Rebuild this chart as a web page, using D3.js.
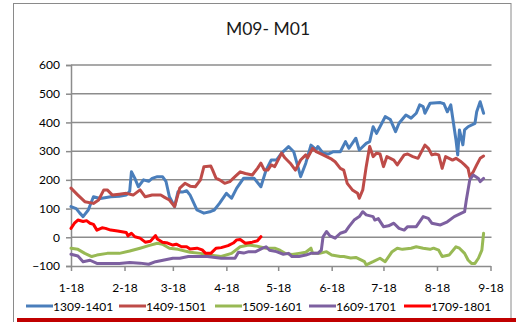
<!DOCTYPE html>
<html><head><meta charset="utf-8">
<script src="https://cdn.jsdelivr.net/npm/d3@7"></script>
<style>
html,body{margin:0;padding:0;background:#fff;}
svg{display:block;font-family:Lato,"Open Sans",sans-serif;}
</style></head>
<body>
<svg id="c" width="516" height="322"></svg>
<script>
// ---- data (day offset from 18 Jan, value) ----
const title = "M09- M01";
const seriesNames = ["1309-1401","1409-1501","1509-1601","1609-1701","1709-1801"];
const seriesColors = ["#4a7ebb","#be4b48","#98b954","#7d60a0","#ff0000"];
const tickLabels = ["1-18","2-18","3-18","4-18","5-18","6-18","7-18","8-18","9-18"];
const yTicks = [-100,0,100,200,300,400,500,600];

const s1309 = [[0,107],[3,100],[5,85],[7,72],[10,95],[13,141],[17,135],[23,141],[28,143],[32,147],[34,160],[35,228],[37,205],[39,176],[42,200],[45,195],[47,205],[50,211],[53,211],[55,195],[57,141],[60,107],[62,159],[65,158],[67,162],[69,147],[73,95],[77,84],[81,90],[83,95],[86,118],[90,153],[93,136],[96,171],[100,206],[106,206],[110,176],[113,234],[116,269],[119,269],[122,293],[126,316],[129,298],[132,234],[133,211],[136,258],[139,321],[142,305],[143,316],[146,293],[149,290],[152,298],[156,298],[159,333],[161,310],[165,345],[167,304],[171,327],[173,333],[175,385],[177,362],[182,420],[185,410],[188,368],[190,397],[194,426],[197,415],[200,432],[202,461],[204,455],[205,432],[208,467],[214,469],[216,465],[218,437],[220,461],[223,339],[224,287],[225,374],[227,322],[228,374],[230,385],[234,397],[235,437],[237,472],[239,432]];
const s1409 = [[0,171],[4,147],[8,124],[13,118],[16,130],[19,165],[21,165],[24,147],[28,150],[32,153],[36,147],[40,165],[43,141],[47,147],[52,147],[54,140],[57,130],[60,107],[63,171],[66,188],[69,178],[72,176],[75,200],[77,246],[81,248],[82,235],[84,206],[86,200],[89,188],[92,194],[95,211],[98,228],[101,222],[105,217],[108,240],[110,258],[112,234],[114,234],[116,252],[118,246],[122,293],[124,276],[127,258],[130,234],[133,269],[136,287],[137,276],[140,310],[142,298],[146,287],[151,272],[153,263],[156,240],[158,234],[160,188],[163,165],[166,153],[167,136],[169,165],[171,246],[173,316],[175,281],[177,293],[179,290],[181,246],[183,281],[187,269],[189,252],[193,287],[195,290],[198,281],[201,275],[205,321],[207,310],[209,287],[211,290],[213,287],[215,240],[217,281],[221,269],[223,275],[226,263],[228,252],[230,240],[231,211],[233,228],[235,252],[237,275],[239,283]];
const s1509 = [[0,-38],[4,-42],[8,-56],[12,-67],[15,-62],[21,-56],[28,-56],[34,-48],[40,-38],[45,-29],[50,-21],[53,-24],[57,-38],[62,-42],[69,-52],[75,-56],[80,-62],[87,-67],[93,-56],[98,-33],[103,-27],[107,-30],[113,-38],[118,-38],[121,-45],[124,-56],[128,-60],[132,-56],[136,-52],[139,-38],[140,-56],[144,-56],[148,-50],[151,-62],[156,-67],[158,-67],[162,-72],[165,-70],[170,-85],[171,-96],[175,-85],[179,-73],[182,-85],[186,-50],[189,-38],[192,-42],[197,-38],[200,-33],[204,-38],[208,-42],[210,-38],[213,-45],[215,-67],[219,-62],[223,-33],[225,-38],[228,-56],[230,-79],[232,-91],[234,-91],[236,-73],[238,-45],[239,14]];
const s1609 = [[0,-59],[4,-65],[7,-85],[11,-80],[15,-91],[23,-91],[28,-91],[34,-88],[40,-90],[45,-94],[49,-85],[54,-79],[59,-73],[63,-73],[68,-67],[72,-67],[79,-67],[87,-73],[95,-73],[97,-52],[100,-55],[103,-50],[107,-50],[111,-38],[113,-33],[115,-45],[119,-50],[123,-59],[126,-56],[128,-67],[132,-67],[136,-62],[139,-56],[143,-56],[145,-45],[146,2],[148,20],[150,5],[153,-3],[156,14],[159,20],[161,37],[164,60],[167,72],[169,89],[171,78],[175,72],[176,60],[178,65],[181,37],[184,40],[187,49],[190,31],[193,25],[195,37],[200,37],[204,72],[207,66],[209,49],[214,43],[218,54],[222,72],[228,89],[229,130],[231,200],[233,217],[236,205],[237,194],[239,205]];
const s1709 = [[0,31],[2,49],[4,60],[7,55],[9,58],[11,49],[13,45],[15,25],[18,33],[20,31],[23,25],[27,22],[32,17],[33,5],[35,14],[37,2],[40,-3],[43,-17],[46,-14],[49,6],[50,-6],[53,-17],[56,-20],[59,-27],[61,-24],[64,-33],[67,-33],[69,-41],[73,-38],[76,-44],[78,-56],[81,-56],[84,-38],[87,-36],[91,-29],[94,-20],[96,-9],[98,-8],[101,-21],[105,-17],[108,-12],[110,2]];
const allSeries = [s1309, s1409, s1509, s1609, s1709];

// ---- drawing ----
const svg = d3.select("#c");
const start = new Date(2017, 0, 18);
const end = new Date(2017, 8, 18);
const x = d3.scaleTime().domain([start, end]).range([71, 490.5]);
const y = d3.scaleLinear().domain([-100, 600]).range([266, 65]);
const tickDates = tickLabels.map((t, i) => new Date(2017, i, 18));

// frame
svg.append("rect").attr("x", 13.5).attr("y", 3.5).attr("width", 497.5).attr("height", 330)
  .attr("fill", "none").attr("stroke", "#8a8a8a").attr("stroke-width", 1);
svg.append("rect").attr("x", 17).attr("y", 318).attr("width", 499).attr("height", 4).attr("fill", "#c00000");

// title
svg.append("text").attr("x", 268).attr("y", 35).attr("text-anchor", "middle")
  .attr("font-size", 17.5).attr("fill", "#1a1a1a").text(title);

// gridlines
svg.append("g").selectAll("line").data(yTicks.filter(v => v > -100)).join("line")
  .attr("x1", 71).attr("x2", 491.5).attr("y1", d => y(d)).attr("y2", d => y(d))
  .attr("stroke", "#8c8c8c").attr("stroke-width", 1.5);

// y axis
const ya = svg.append("g").attr("transform", "translate(71,0)")
  .call(d3.axisLeft(y).tickValues(yTicks).tickSize(5).tickPadding(6));
ya.select(".domain").attr("stroke", "#8c8c8c").attr("stroke-width", 1.5);
ya.selectAll(".tick line").attr("stroke", "#8c8c8c").attr("stroke-width", 1.5);
ya.selectAll("text").attr("font-size", 12).attr("fill", "#000").attr("font-family", "Lato");

// x axis
const xa = svg.append("g").attr("transform", "translate(0,266)")
  .call(d3.axisBottom(x).tickValues(tickDates).tickFormat((d, i) => tickLabels[i]).tickSize(5).tickSizeOuter(0).tickPadding(12));
xa.select(".domain").attr("stroke", "#8c8c8c").attr("stroke-width", 1.5);
xa.selectAll(".tick line").attr("stroke", "#8c8c8c").attr("stroke-width", 1.5);
xa.selectAll("text").attr("font-size", 12).attr("fill", "#000").attr("font-family", "Lato");

// lines
const line = d3.line().x(d => x(d3.timeDay.offset(start, d[0]))).y(d => y(d[1]));
svg.append("g").selectAll("path").data(allSeries).join("path")
  .attr("d", line).attr("fill", "none")
  .attr("stroke", (d, i) => seriesColors[i]).attr("stroke-width", 3)
  .attr("stroke-linejoin", "round").attr("stroke-linecap", "round");

// legend
const legX = [26, 119, 215, 309, 404];
const leg = svg.append("g").selectAll("g").data(seriesNames).join("g")
  .attr("transform", (d, i) => `translate(${legX[i]},306)`);
leg.append("line").attr("x1", 0).attr("x2", 27).attr("y1", 0).attr("y2", 0)
  .attr("stroke", (d, i) => seriesColors[i]).attr("stroke-width", 3);
leg.append("text").attr("x", 27).attr("y", 4.5).attr("font-size", 12).attr("fill", "#000")
  .text(d => d);
</script>
</body></html>
